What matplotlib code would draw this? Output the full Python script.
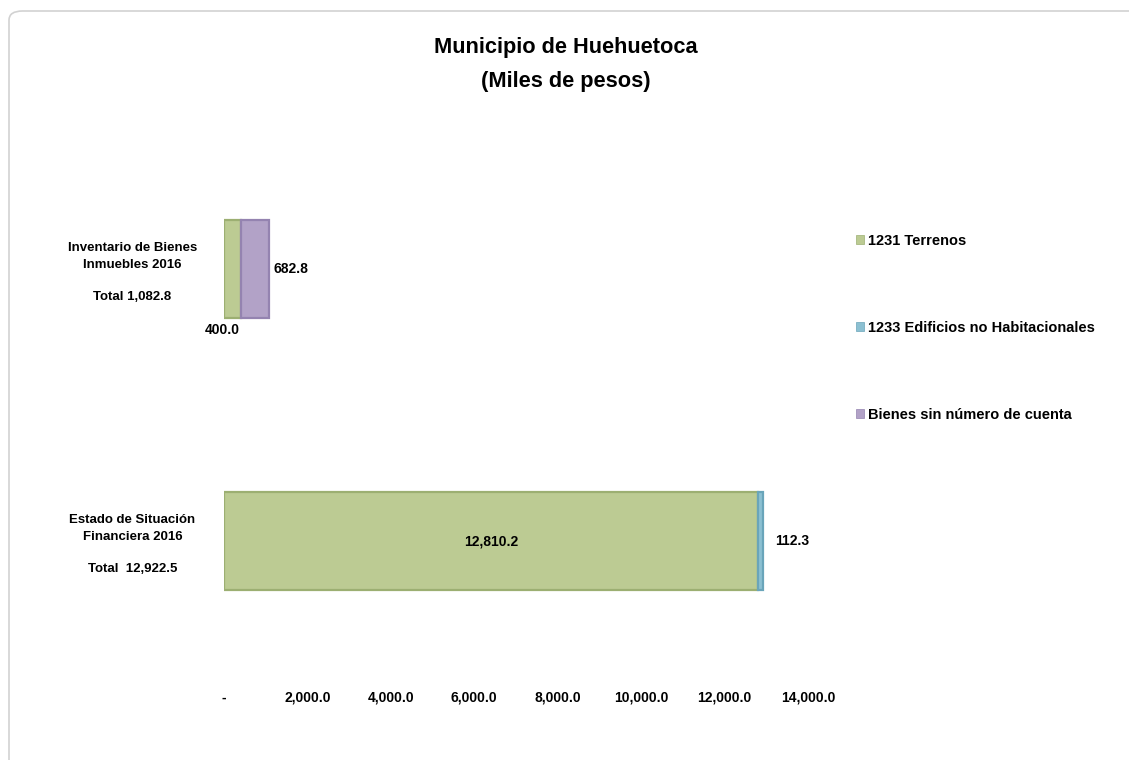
import matplotlib.pyplot as plt
from matplotlib.patches import FancyBboxPatch, Patch

categories = [
    "Estado de Situación\nFinanciera 2016\n\nTotal  12,922.5",
    "Inventario de Bienes\nInmuebles 2016\n\nTotal 1,082.8",
]
series_names = [
    "1231 Terrenos",
    "1233 Edificios no Habitacionales",
    "Bienes sin número de cuenta",
]
terrenos = [12810.2, 400.0]
edificios = [112.3, 0.0]
bienes_sin_cuenta = [0.0, 682.8]
x_ticks = [0, 2000, 4000, 6000, 8000, 10000, 12000, 14000]
x_tick_labels = ["-", "2,000.0", "4,000.0", "6,000.0", "8,000.0",
                 "10,000.0", "12,000.0", "14,000.0"]

colors = ["#bccb93", "#8cc0d2", "#b2a2c7"]
edges = ["#9caf72", "#6aa5ba", "#9483b0"]

plt.rcParams["font.family"] = ["Liberation Sans", "DejaVu Sans"]
plt.rcParams["font.weight"] = "bold"

fig = plt.figure(figsize=(11.29, 7.6), dpi=100)

frame = FancyBboxPatch(
    (9 / 1129, -0.05), 1.2, 1 - 11 / 760 + 0.05,
    boxstyle="round,pad=0,rounding_size=0.012",
    transform=fig.transFigure,
    facecolor="white", edgecolor="#d2d2d2", linewidth=1.2, zorder=-10,
)
fig.patches.append(frame)

ax = fig.add_axes([224 / 1129, 83 / 760, 584 / 1129, 544 / 760])
ax.set_facecolor("none")

y = [0, 1]
h = 0.357
series = [terrenos, edificios, bienes_sin_cuenta]
left = [0.0, 0.0]
for vals, name, c, e in zip(series, series_names, colors, edges):
    for yi, v, l in zip(y, vals, left):
        if v > 0:
            ax.barh(yi, v, height=h, left=l, color=c, edgecolor=e,
                    linewidth=1.6)
    left = [a + b for a, b in zip(left, vals)]

ax.set_xlim(0, 14000)
ax.set_ylim(-0.5, 1.5)
ax.set_xticks(x_ticks)
ax.set_xticklabels(x_tick_labels, fontsize=10, fontweight="bold")
ax.set_yticks(y)
ax.set_yticklabels(categories, fontsize=9.5, fontweight="bold",
                   ha="center", multialignment="center",
                   linespacing=1.5)
ax.tick_params(axis="x", length=0, pad=10)
ax.tick_params(axis="y", length=0, pad=66)
for s in ax.spines.values():
    s.set_visible(False)

# value labels
ax.text(terrenos[0] / 2, 0, "12,810.2", ha="center", va="center",
        fontsize=10, fontweight="bold")
ax.text(terrenos[0] + edificios[0] + 300, 0, f"{edificios[0]:,.1f}",
        ha="left", va="center", fontsize=10, fontweight="bold")
ax.text(terrenos[1] / 2 - 250, 1 - h / 2 - 0.02, f"{terrenos[1]:,.1f}",
        ha="center", va="top", fontsize=10, fontweight="bold")
ax.text(terrenos[1] + bienes_sin_cuenta[1] + 100, 1, f"{bienes_sin_cuenta[1]:,.1f}",
        ha="left", va="center", fontsize=10, fontweight="bold")

handles = [Patch(facecolor=c, edgecolor=e, linewidth=0.5)
           for c, e in zip(colors, edges)]
fig.legend(handles, series_names, loc="upper left",
           bbox_to_anchor=(856 / 1129, 1 - 234 / 760),
           frameon=False, fontsize=10.5, labelspacing=5.0,
           handlelength=0.55, handleheight=0.55, handletextpad=0.25,
           borderaxespad=0, borderpad=0)

fig.text(0.501, 1 - 47 / 760, "Municipio de Huehuetoca",
         ha="center", va="center", fontsize=15.7, fontweight="bold")
fig.text(0.501, 1 - 81 / 760, "(Miles de pesos)",
         ha="center", va="center", fontsize=15.7, fontweight="bold")

fig.savefig("out.png", dpi=100)
